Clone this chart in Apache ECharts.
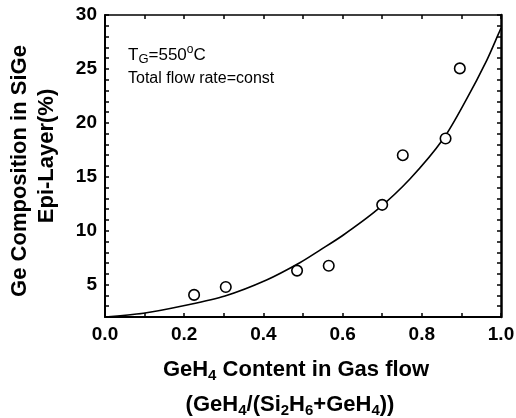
<!DOCTYPE html>
<html>
<head>
<meta charset="utf-8">
<style>
html,body{margin:0;padding:0;background:#fff;}
#chart{width:516px;height:418px;}
</style>
<script src="https://cdn.jsdelivr.net/npm/echarts@6/dist/echarts.min.js"></script>
</head>
<body>
<div id="chart"></div>
<script>
// ---- data ----
const ptsX = [0.225, 0.305, 0.485, 0.565, 0.700, 0.752, 0.860, 0.896];
const ptsY = [4.05, 4.78, 6.30, 6.75, 12.40, 17.00, 18.55, 25.05];

const curveX = [0.0, 0.097, 0.198, 0.303, 0.408, 0.492, 0.543, 0.602, 0.686, 0.770, 0.854, 0.913, 0.964, 0.993, 1.0];
const curveY = [2.0, 2.35, 3.05, 3.95, 5.43, 7.03, 8.20, 9.60, 11.90, 14.80, 18.50, 22.20, 25.80, 28.20, 28.80];

const xLabelValues = [0.0, 0.2, 0.4, 0.6, 0.8, 1.0];
const xTickLabels = ['0.0', '0.2', '0.4', '0.6', '0.8', '1.0'];
const yLabelValues = [5, 10, 15, 20, 25, 30];
const yTickLabels = ['5', '10', '15', '20', '25', '30'];

const FONT = "'Liberation Sans', Arial, Helvetica, sans-serif";

function lookup(values, labels, v) {
  for (let i = 0; i < values.length; i++) {
    if (Math.abs(values[i] - v) < 1e-6) return labels[i];
  }
  return '';
}

const chart = echarts.init(document.getElementById('chart'), null, {renderer: 'canvas'});

const scatterData = ptsX.map((x, i) => [x, ptsY[i]]);
const curveData = curveX.map((x, i) => [x, curveY[i]]);

const axisCommon = {
  type: 'value',
  splitLine: {show: false},
  axisLine: {show: true, onZero: false, lineStyle: {color: '#000', width: 2}},
  axisTick: {show: true, inside: true, length: 4, lineStyle: {color: '#000', width: 1.5}},
  minorTick: {show: false}
};

const option = {
  backgroundColor: '#fff',
  animation: false,
  grid: {left: 105, right: 15, top: 15, bottom: 101, containLabel: false, outerBoundsMode: 'none'},
  xAxis: [
    Object.assign({}, axisCommon, {
      position: 'bottom', min: 0, max: 1, interval: 0.1,
      axisLabel: {
        show: true, margin: 8, color: '#000', fontFamily: FONT, fontWeight: 'bold', fontSize: 19,
        formatter: v => lookup(xLabelValues, xTickLabels, v)
      }
    }),
    Object.assign({}, axisCommon, {
      position: 'top', min: 0, max: 1, interval: 0.1,
      axisLine: {show: true, onZero: false, lineStyle: {color: '#000', width: 1.5}},
      axisLabel: {show: false}
    })
  ],
  yAxis: [
    Object.assign({}, axisCommon, {
      position: 'left', min: 2, max: 30, interval: 1,
      axisLabel: {
        show: true, margin: 8, color: '#000', fontFamily: FONT, fontWeight: 'bold', fontSize: 19,
        padding: [5, 0, 0, 0],
        formatter: v => lookup(yLabelValues, yTickLabels, v)
      }
    }),
    Object.assign({}, axisCommon, {
      position: 'right', min: 2, max: 30, interval: 1,
      axisLine: {show: true, onZero: false, lineStyle: {color: '#000', width: 2.5}},
      axisLabel: {show: false}
    })
  ],
  series: [
    {
      type: 'line',
      data: curveData,
      smooth: 0.3,
      symbol: 'none',
      lineStyle: {color: '#000', width: 1.6},
      xAxisIndex: 0, yAxisIndex: 0,
      z: 2
    },
    {
      type: 'scatter',
      data: scatterData,
      symbol: 'circle',
      symbolSize: 10.5,
      itemStyle: {color: '#fff', borderColor: '#000', borderWidth: 1.6, opacity: 1},
      xAxisIndex: 0, yAxisIndex: 0,
      z: 3
    }
  ],
  graphic: [
    {
      type: 'text', x: 128, y: 55, z: 10,
      style: {
        text: '{m|T}{s|G}{m|=550}{o|o}{m|C}',
        textAlign: 'left', textVerticalAlign: 'middle',
        rich: {
          m: {fontFamily: FONT, fontSize: 17, lineHeight: 22, fill: '#000', color: '#000'},
          s: {fontFamily: FONT, fontSize: 13, lineHeight: 13, verticalAlign: 'bottom', fill: '#000', color: '#000'},
          o: {fontFamily: FONT, fontSize: 12, lineHeight: 12, verticalAlign: 'top', fill: '#000', color: '#000'}
        }
      }
    },
    {
      type: 'text', x: 128, y: 79, z: 10,
      style: {
        text: 'Total flow rate=const',
        font: '16px ' + FONT, fill: '#000',
        textAlign: 'left', textVerticalAlign: 'middle'
      }
    },
    {
      type: 'text', x: 20, y: 171, rotation: Math.PI / 2, z: 10,
      style: {
        text: 'Ge Composition in SiGe',
        font: 'bold 22px ' + FONT, fill: '#000',
        textAlign: 'center', textVerticalAlign: 'middle'
      }
    },
    {
      type: 'text', x: 47, y: 156, rotation: Math.PI / 2, z: 10,
      style: {
        text: 'Epi-Layer(%)',
        font: 'bold 22px ' + FONT, fill: '#000',
        textAlign: 'center', textVerticalAlign: 'middle'
      }
    },
    {
      type: 'text', x: 296, y: 370, z: 10,
      style: {
        text: '{m|GeH}{s|4}{m| Content in Gas flow}',
        textAlign: 'center', textVerticalAlign: 'middle',
        rich: {
          m: {fontFamily: FONT, fontWeight: 'bold', fontSize: 22, lineHeight: 26, fill: '#000', color: '#000'},
          s: {fontFamily: FONT, fontWeight: 'bold', fontSize: 15, lineHeight: 12, verticalAlign: 'bottom', fill: '#000', color: '#000'}
        }
      }
    },
    {
      type: 'text', x: 290, y: 405, z: 10,
      style: {
        text: '{m|(GeH}{s|4}{m|/(Si}{s|2}{m|H}{s|6}{m|+GeH}{s|4}{m|))}',
        textAlign: 'center', textVerticalAlign: 'middle',
        rich: {
          m: {fontFamily: FONT, fontWeight: 'bold', fontSize: 22, lineHeight: 26, fill: '#000', color: '#000'},
          s: {fontFamily: FONT, fontWeight: 'bold', fontSize: 15, lineHeight: 12, verticalAlign: 'bottom', fill: '#000', color: '#000'}
        }
      }
    }
  ]
};

chart.setOption(option);
</script>
</body>
</html>
